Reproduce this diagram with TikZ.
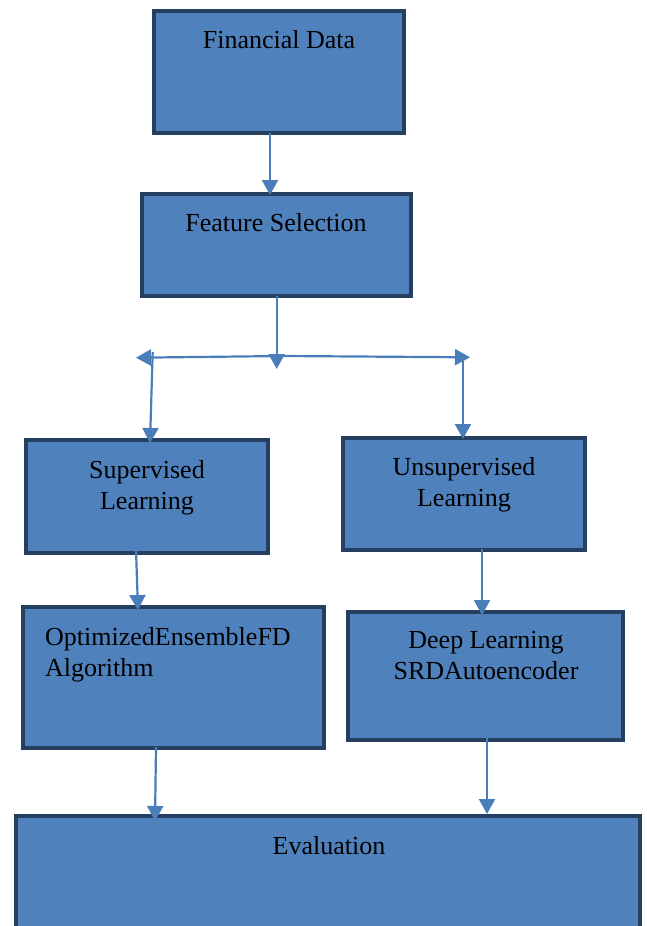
\documentclass[tikz,border=0pt]{standalone}
\usepackage{fontspec}
\setmainfont{Liberation Serif}
\usetikzlibrary{arrows.meta,calc}
\definecolor{boxfill}{HTML}{4F81BD}
\definecolor{boxline}{HTML}{243F60}
\definecolor{arrowc}{HTML}{4A7EBB}
\begin{document}
\begin{tikzpicture}[x=1pt,y=-1pt,
  box/.style={draw=boxline, fill=boxfill, line width=4pt, inner sep=0pt, outer sep=0pt, rectangle},
  lbl/.style={font=\fontsize{26}{31}\selectfont, inner sep=0pt, anchor=base, align=center, text=black},
  arr/.style={draw=arrowc, line width=2.2pt, -{Triangle[width=16pt,length=15pt]}},
  ln/.style={draw=arrowc, line width=2.2pt}]
\useasboundingbox (0,0) rectangle (646,926);
\clip (0,0) rectangle (646,926);
% boxes
\node[box, minimum width=250pt, minimum height=122pt] (fd) at (279,72) {};
\node[box, minimum width=269pt, minimum height=102pt] (fs) at (276.5,245) {};
\node[box, minimum width=242pt, minimum height=113pt] (sl) at (147,496.5) {};
\node[box, minimum width=242pt, minimum height=112pt] (ul) at (464,494) {};
\node[box, minimum width=301pt, minimum height=141pt] (oe) at (173.5,677.5) {};
\node[box, minimum width=275pt, minimum height=128pt] (dl) at (485.5,676) {};
\node[box, minimum width=624pt, minimum height=120pt] (ev) at (328,876) {};
% labels (base anchor = last line baseline)
\node[lbl] (fdt) at (279,48) {Financial Data};
\node[lbl] (fst) at (276,231) {Feature Selection};
\node[lbl] (slt) at (147,509) {Supervised\\Learning};
\node[lbl] (ult) at (464,506) {Unsupervised\\Learning};
\node[lbl, anchor=base west, align=left] (oet) at (45,676) {OptimizedEnsembleFD\\Algorithm};
\node[lbl] (dlt) at (486,679) {Deep Learning\\SRDAutoencoder};
\node[lbl] (evt) at (329,854) {Evaluation};
% branch coordinates
\coordinate (jc) at (283,356);
\coordinate (jd) at (276.7,369);
\coordinate (jl) at (136,357.7);
\coordinate (jr) at (470,357.3);
\coordinate (ls) at (152.7,352);
\coordinate (rs) at (463,357);
% connectors
\draw[arr] ([xshift=-9pt]fd.south) -- ([xshift=-6.5pt,yshift=-1pt]fs.north);
\draw[arr] (fs.south -| jd) -- (jd);
\draw[arr] (jc) -- (jl);
\draw[arr] (jc) -- (jr);
\draw[arr] (ls) -- ([xshift=3pt,yshift=-3pt]sl.north);
\draw[arr] (rs) -- ([xshift=-1pt,yshift=-1pt]ul.north);
\draw[arr] ([xshift=-11pt,yshift=3pt]sl.south) -- ([xshift=-35.5pt,yshift=-3pt]oe.north);
\draw[arr] ([xshift=18pt,yshift=1pt]ul.south) -- ([xshift=-3.5pt,yshift=-3pt]dl.north);
\draw[arr] ([xshift=-17.5pt,yshift=1pt]oe.south) -- ([xshift=-173pt,yshift=-5pt]ev.north);
\draw[arr] ([xshift=1.5pt,yshift=4pt]dl.south) -- ([xshift=159pt,yshift=2pt]ev.north);
\end{tikzpicture}
\end{document}
